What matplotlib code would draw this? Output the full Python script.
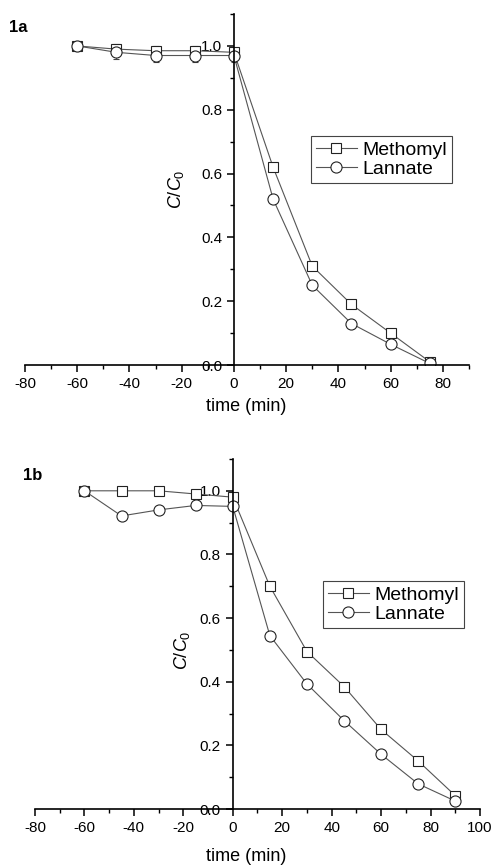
import numpy as np
import matplotlib
matplotlib.use("Agg")
import matplotlib.pyplot as plt
from matplotlib.ticker import MultipleLocator

plt.rcParams["font.family"] = ["Liberation Sans", "DejaVu Sans"]
plt.rcParams["mathtext.fontset"] = "custom"
plt.rcParams["mathtext.it"] = "Liberation Sans:italic"
plt.rcParams["mathtext.rm"] = "Liberation Sans"
plt.rcParams["axes.unicode_minus"] = False

# panel 1a
t_a = [-60, -45, -30, -15, 0, 15, 30, 45, 60, 75]
meth_a = [1.0, 0.99, 0.985, 0.985, 0.98, 0.62, 0.31, 0.19, 0.10, 0.01]
meth_a_err = [0.005, 0.015, 0.015, 0.015, 0.015, 0.005, 0.005, 0.005, 0.01, 0.008]
lann_a = [1.0, 0.98, 0.97, 0.97, 0.97, 0.52, 0.25, 0.13, 0.065, 0.005]
lann_a_err = [0.005, 0.02, 0.02, 0.02, 0.02, 0.005, 0.01, 0.012, 0.012, 0.008]

# panel 1b
t_b = [-60, -45, -30, -15, 0, 15, 30, 45, 60, 75, 90]
meth_b = [1.0, 1.0, 1.0, 0.99, 0.98, 0.70, 0.495, 0.385, 0.25, 0.151, 0.042]
meth_b_err = [0.005, 0.012, 0.012, 0.01, 0.01, 0.005, 0.01, 0.012, 0.01, 0.012, 0.01]
lann_b = [1.0, 0.921, 0.94, 0.954, 0.951, 0.545, 0.393, 0.278, 0.172, 0.079, 0.025]
lann_b_err = [0.005, 0.01, 0.01, 0.008, 0.008, 0.005, 0.005, 0.005, 0.008, 0.01, 0.01]

fig = plt.figure(figsize=(4.92, 8.66), dpi=100)
ax1 = fig.add_axes([0.0508, 0.5785, 0.9024, 0.4053])
ax2 = fig.add_axes([0.0711, 0.0658, 0.9045, 0.4042])


def draw(ax, t, m, me, l, le, xmax, xl, yl, legpos):
    kw = dict(color="#555555", lw=0.8, mfc="white", mec="#222222", mew=0.8,
              ecolor="#444444", elinewidth=0.6, capsize=2.5)
    ax.errorbar(t, m, yerr=me, marker="s", ms=7, label="Methomyl", **kw)
    ax.errorbar(t, l, yerr=le, marker="o", ms=8, label="Lannate", **kw)
    ax.set_xlim(-80, xmax)
    ax.set_ylim(0, 1.1)
    for s in ["top", "right"]:
        ax.spines[s].set_visible(False)
    ax.spines["left"].set_position(("data", 0))
    ax.spines["bottom"].set_position(("data", 0))
    ax.spines["left"].set_linewidth(1.2)
    ax.spines["bottom"].set_linewidth(1.2)
    ax.xaxis.set_major_locator(MultipleLocator(20))
    ax.xaxis.set_minor_locator(MultipleLocator(10))
    ax.yaxis.set_major_locator(MultipleLocator(0.2))
    ax.yaxis.set_minor_locator(MultipleLocator(0.1))
    ax.yaxis.set_major_formatter(plt.FormatStrFormatter("%.1f"))
    ax.tick_params(which="major", direction="out", length=5, width=1.1, labelsize=11)
    ax.tick_params(which="minor", direction="out", length=3, width=1.0)
    ax.set_xlabel("time (min)", fontsize=13)
    ax.set_ylabel(r"$\mathit{C/C}_0$", fontsize=13)
    ax.xaxis.set_label_coords(xl[0], xl[1])
    ax.yaxis.set_label_coords(yl[0], yl[1])
    handles, labels = ax.get_legend_handles_labels()
    handles = [h[0] for h in handles]
    leg = ax.legend(handles, labels, loc="upper left", bbox_to_anchor=legpos,
                    fontsize=14, fancybox=False, framealpha=1, edgecolor="#444444",
                    borderpad=0.25, borderaxespad=0, handlelength=2.1,
                    handletextpad=0.3, labelspacing=0.1)
    leg.get_frame().set_linewidth(0.8)


draw(ax1, t_a, meth_a, meth_a_err, lann_a, lann_a_err, 90,
     (0.498, -0.094), (0.363, 0.5), (0.644, 0.652))
draw(ax2, t_b, meth_b, meth_b_err, lann_b, lann_b_err, 100,
     (0.474, -0.111), (0.353, 0.454), (0.647, 0.651))

fig.text(0.037, 1 - 28 / 866, "1a", fontsize=12, fontweight="bold", ha="center", va="center")
fig.text(0.067, 1 - 475 / 866, "1b", fontsize=12, fontweight="bold", ha="center", va="center")

fig.savefig("out.png", dpi=100)
